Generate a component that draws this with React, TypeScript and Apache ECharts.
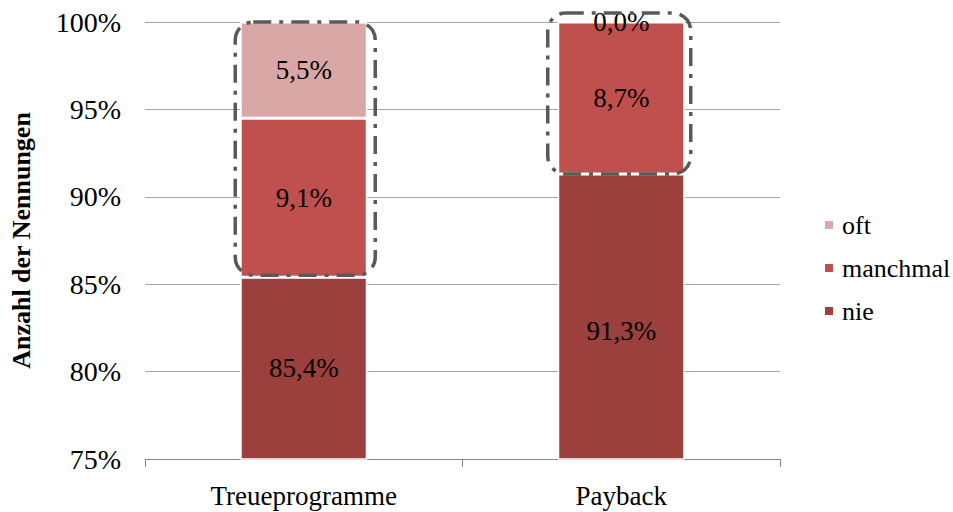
import React, { useEffect, useRef } from "react";
import * as echarts from "echarts";

const categories = ["Treueprogramme", "Payback"];
const nie = [85.4, 91.3];
const manchmal = [9.1, 8.7];
const oft = [5.5, 0.0];
const yTicks = { min: 75, max: 100, interval: 5 };
const legendOrder = ["oft", "manchmal", "nie"];

const FONT = "'Liberation Serif', 'Times New Roman', serif";
const COLORS = { nie: "#9c403e", manchmal: "#c0504d", oft: "#d9a7a6" };

const fmt = (v: number) => v.toFixed(1).replace(".", ",") + "%";

export default function App() {
  const ref = useRef<HTMLDivElement>(null);
  useEffect(() => {
    if (!ref.current) return;
    const chart = echarts.init(ref.current, null, { renderer: "svg" });
    const label = {
      show: true,
      position: "inside" as const,
      color: "#000",
      fontFamily: FONT,
      fontSize: 27,
      formatter: (p: any) => fmt(p.value),
    };
    const mk = (name: string, data: any[], color: string) => ({
      name,
      type: "bar",
      stack: "total",
      data,
      barWidth: 127,
      itemStyle: { color, borderColor: "#fff", borderWidth: 1.5 },
      label,
    });
    // the Payback "nie" label sits a little lower in the reference
    const nieData = nie.map((v, i) => (i === 1 ? { value: v, label: { offset: [0, 14] } } : v));
    chart.setOption({
      animation: false,
      textStyle: { fontFamily: FONT },
      grid: { left: 144, right: 173, top: 22, bottom: 53 },
      legend: {
        orient: "vertical",
        left: 823,
        top: 212,
        padding: 0,
        data: legendOrder,
        icon: "rect",
        itemWidth: 10,
        itemHeight: 10,
        itemGap: 17,
        textStyle: { fontFamily: FONT, fontSize: 26, color: "#000", padding: [0, 0, 0, 3] },
      },
      xAxis: {
        type: "category",
        data: categories,
        axisLine: { lineStyle: { color: "#868686", width: 1 } },
        axisTick: { show: true, length: 8, lineStyle: { color: "#868686" } },
        axisLabel: { fontFamily: FONT, fontSize: 27, color: "#000", margin: 23 },
      },
      yAxis: {
        type: "value",
        min: yTicks.min,
        max: yTicks.max,
        interval: yTicks.interval,
        name: "Anzahl der Nennungen",
        nameLocation: "middle",
        nameGap: 111,
        nameTextStyle: { fontFamily: FONT, fontSize: 26, fontWeight: "bold", color: "#000" },
        axisLine: { show: false },
        axisTick: { show: false },
        axisLabel: { fontFamily: FONT, fontSize: 28, color: "#000", margin: 24, formatter: "{value}%" },
        splitLine: { lineStyle: { color: "#a6a6a6", width: 1 } },
      },
      series: [
        mk("nie", nieData, COLORS.nie),
        mk("manchmal", manchmal, COLORS.manchmal),
        mk("oft", oft, COLORS.oft),
      ],
    });

    // dashed annotation boxes around the upper segments
    const halfW = 127 / 2;
    const pads = [
      { l: 5, r: 8, t: 0, b: 2 },
      { l: 10, r: 6, t: 9, b: 0 },
    ];
    const graphics = categories.map((_, i) => {
      const [cx, yTop] = chart.convertToPixel({ gridIndex: 0 }, [i, yTicks.max]) as number[];
      const [, yBot] = chart.convertToPixel({ gridIndex: 0 }, [i, nie[i]]) as number[];
      const p = pads[i];
      const x = cx - halfW - p.l;
      const y = yTop - p.t;
      return {
        type: "rect",
        shape: { x, y, width: halfW * 2 + p.l + p.r, height: yBot - p.b - y, r: 18 },
        style: { fill: "none", stroke: "#595959", lineWidth: 3.5, lineDash: [18, 8, 4, 8] },
        z: 100,
      };
    });
    chart.setOption({ graphic: graphics });

    return () => chart.dispose();
  }, []);
  return <div ref={ref} style={{ width: 953, height: 512, position: "absolute", left: 0, top: 0 }} />;
}
